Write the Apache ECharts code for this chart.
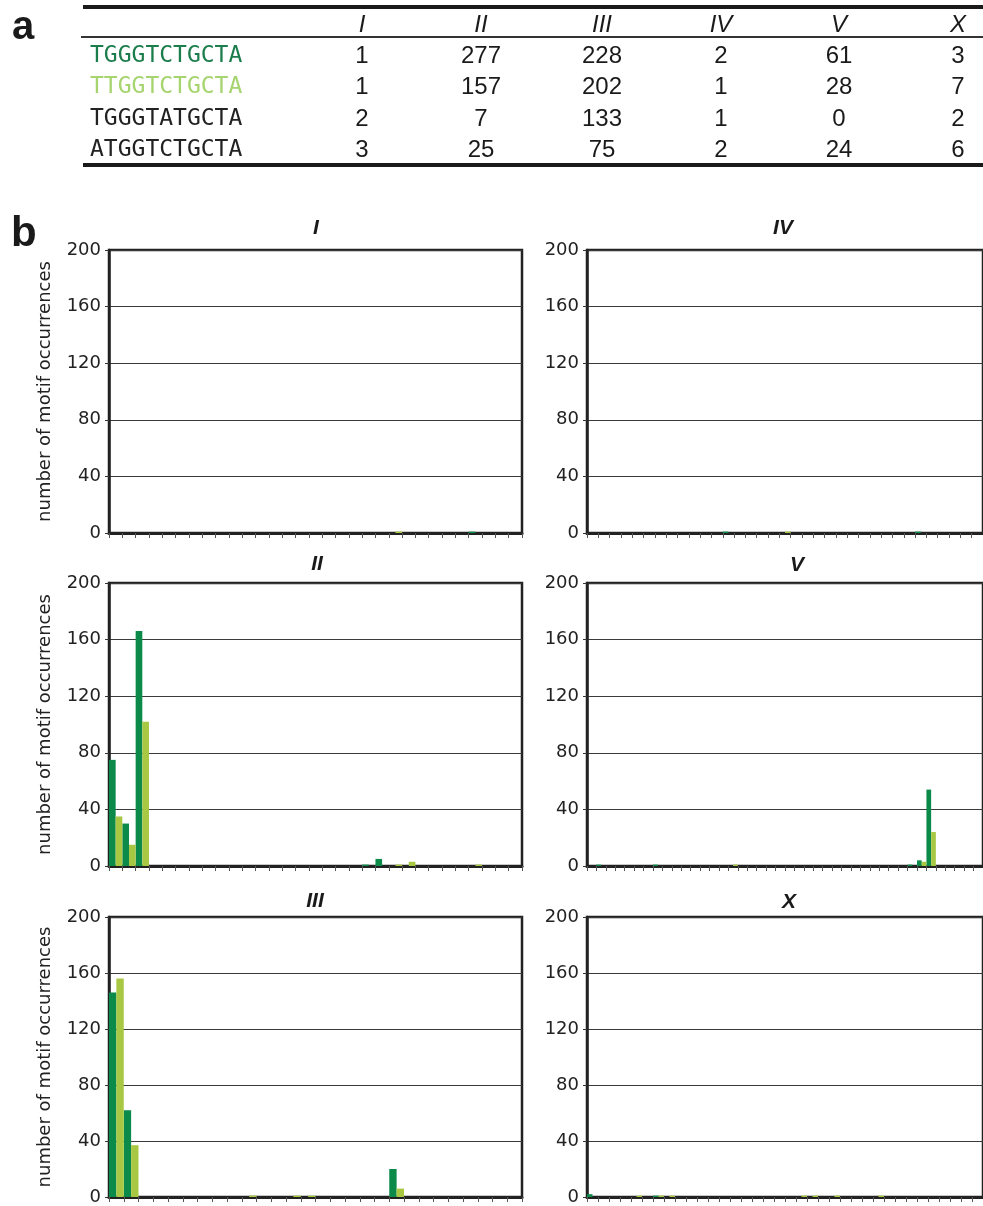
<!DOCTYPE html>
<html>
<head>
<meta charset="utf-8">
<script src="https://cdn.jsdelivr.net/npm/echarts@6/dist/echarts.min.js"></script>
<style>
html, body { margin: 0; padding: 0; background: #fff; }
#chart { width: 983px; height: 1206px; }
</style>
</head>
<body>
<div id="chart"></div>
<script>
// table (a)
var chromosomes = ['I', 'II', 'III', 'IV', 'V', 'X'];
var motifs = ['TGGGTCTGCTA', 'TTGGTCTGCTA', 'TGGGTATGCTA', 'ATGGTCTGCTA'];
var countsRow1 = [1, 277, 228, 2, 61, 3];
var countsRow2 = [1, 157, 202, 1, 28, 7];
var countsRow3 = [2, 7, 133, 1, 0, 2];
var countsRow4 = [3, 25, 75, 2, 24, 6];

// histograms (b): occurrences per bin along each chromosome
var darkI  = [0,0,0,0,0,0,0,0,0,0, 0,0,0,0,0,0,0,0,0,0, 0,0,0,0,0,0,0,1,0,0, 0];
var lightI = [0,0,0,0,0,0,0,0,0,0, 0,0,0,0,0,0,0,0,0,0, 0,1,0,0,0,0,0,0,0,0, 0];
var darkII  = [75,30,166,0,0,0,0,0,0,0, 0,0,0,0,0,0,0,0,0,1, 5,0,0,0,0,0,0,0,0,0, 0];
var lightII = [35,15,102,0,0,0,0,0,0,0, 0,0,0,0,0,0,0,0,0,0, 0,1,3,0,0,0,0,1,0,0, 0];
var darkIII  = [146,62,0,0,0,0,0,0,0,0, 0,0,0,0,0,0,0,0,0,20, 0,0,0,0,0,0,0,0];
var lightIII = [156,37,0,0,0,0,0,0,0,1, 0,0,1,1,0,0,0,0,0,6, 0,0,0,0,0,0,0,0];
var darkIV  = [0,0,0,0,0,0,0,0,0,0, 0,0,1,0,0,0,0,0,0,0, 0,0,0,0,0,0,0,0,0,1, 0,0,0,0,0];
var lightIV = [0,0,0,0,0,0,0,0,0,0, 0,0,0,0,0,0,0,1,0,0, 0,0,0,0,0,0,0,0,0,0, 0,0,0,0,0];
var darkV  = [0,1,0,0,0,0,0,1,0,0, 0,0,0,0,0,0,0,0,0,0, 0,0,0,0,0,0,0,0,0,0, 0,0,0,0,1,4,54,0,0,0, 0,0];
var lightV = [0,0,0,0,0,0,0,0,0,0, 0,0,0,0,0,1,0,0,0,0, 0,0,0,0,0,0,0,0,0,0, 0,0,0,0,0,3,24,0,0,0, 0,0];
var darkX  = [2,0,0,0,0,0,1,0,0,0, 0,0,0,0,0,0,0,0,0,0, 0,0,0,0,0,0,0,0,0,0, 0,0,0,0,0,0];
var lightX = [0,0,0,0,1,0,1,1,0,0, 0,0,0,0,0,0,0,0,0,1, 1,0,1,0,0,0,1,0,0,0, 0,0,0,0,0,0];

var yTicks = [0, 40, 80, 120, 160, 200];

var DARK = '#0b8a4a';
var LIGHT = '#a8c843';
var panelDark = [darkI, darkII, darkIII, darkIV, darkV, darkX];
var panelLight = [lightI, lightII, lightIII, lightIV, lightV, lightX];

// layout of the six panels: I II III left column, IV V X right column
var gridPos = [
    {left: 109, top: 250}, {left: 109, top: 583}, {left: 109, top: 917},
    {left: 587, top: 250}, {left: 587, top: 583}, {left: 587, top: 917}
];
var titlePos = [[316, 228], [317, 564], [315, 901], [783, 228], [797, 565], [789, 902]];

var grids = [], xAxes = [], yAxes = [], series = [], titles = [];
chromosomes.forEach(function (chr, i) {
    grids.push({
        left: gridPos[i].left, top: gridPos[i].top, width: 413, height: 283,
        show: true, borderColor: '#222', borderWidth: 2.5, backgroundColor: 'transparent'
    });
    xAxes.push({
        type: 'category', gridIndex: i,
        data: panelDark[i].map(function (v, k) { return k + 1; }),
        boundaryGap: true,
        axisLine: {lineStyle: {color: '#222', width: 3}},
        axisTick: {show: true, interval: 0, length: 5, lineStyle: {color: '#555', width: 1}},
        axisLabel: {show: false, interval: 0},
        splitLine: {show: false}
    });
    yAxes.push({
        type: 'value', gridIndex: i, min: yTicks[0], max: yTicks[yTicks.length - 1], interval: 40,
        name: i < 3 ? 'number of motif occurrences' : '',
        nameLocation: 'middle', nameGap: 55, nameRotate: 90,
        nameTextStyle: {fontFamily: 'DejaVu Sans', fontSize: 18, color: '#222'},
        axisLine: {show: true, lineStyle: {color: '#222', width: 2.5}},
        axisTick: {show: true, length: 4, lineStyle: {color: '#333'}},
        axisLabel: {fontFamily: 'DejaVu Sans', fontSize: 18, color: '#222', margin: 8},
        splitLine: {show: true, lineStyle: {color: '#3a3a3a', width: 1}}
    });
    series.push({
        type: 'bar', xAxisIndex: i, yAxisIndex: i, data: panelDark[i],
        itemStyle: {color: DARK}, barGap: '0%', barCategoryGap: '0%', silent: true
    });
    series.push({
        type: 'bar', xAxisIndex: i, yAxisIndex: i, data: panelLight[i],
        itemStyle: {color: LIGHT}, barGap: '0%', barCategoryGap: '0%', silent: true
    });
    titles.push({
        text: chr, left: titlePos[i][0], top: titlePos[i][1],
        textAlign: 'center', textVerticalAlign: 'middle', padding: 0,
        textStyle: {fontFamily: 'Liberation Sans', fontSize: 21, fontWeight: 'bold', fontStyle: 'italic', color: '#1a1a1a'}
    });
});

// table drawn with graphic elements
var colX = [362, 481, 602, 721, 839, 958];
var rowY = [56, 87.5, 119, 150.5];
var labelColors = ['#1b7d4b', '#a6d46e', '#222', '#222'];
var rows = [countsRow1, countsRow2, countsRow3, countsRow4];
var graphics = [];

function txt(s, x, y, font, fill, align) {
    return {
        type: 'text', silent: true,
        style: {text: s, x: x, y: y, font: font, fill: fill,
            align: align, verticalAlign: 'middle', textAlign: align, textVerticalAlign: 'middle'}
    };
}

graphics.push(txt('a', 12, 28, 'bold 40px "Liberation Sans"', '#1a1a1a', 'left'));
graphics.push(txt('b', 11, 234, 'bold 42px "Liberation Sans"', '#1a1a1a', 'left'));
graphics.push({type: 'rect', silent: true, shape: {x: 83, y: 5, width: 900, height: 4}, style: {fill: '#1a1a1a'}});
graphics.push({type: 'rect', silent: true, shape: {x: 81, y: 36, width: 902, height: 2}, style: {fill: '#333'}});
graphics.push({type: 'rect', silent: true, shape: {x: 83, y: 163, width: 900, height: 4}, style: {fill: '#1a1a1a'}});
chromosomes.forEach(function (chr, j) {
    graphics.push(txt(chr, colX[j], 25, 'italic 24px "Liberation Sans"', '#1a1a1a', 'center'));
});
motifs.forEach(function (m, r) {
    graphics.push(txt(m, 90, rowY[r], '23px "DejaVu Sans Mono"', labelColors[r], 'left'));
    rows[r].forEach(function (v, j) {
        graphics.push(txt(String(v), colX[j], rowY[r], '24px "Liberation Sans"', '#1a1a1a', 'center'));
    });
});

var myChart = echarts.init(document.getElementById('chart'));
myChart.setOption({
    animation: false,
    backgroundColor: '#fff',
    title: titles,
    grid: grids,
    xAxis: xAxes,
    yAxis: yAxes,
    series: series,
    graphic: graphics
});
</script>
</body>
</html>
